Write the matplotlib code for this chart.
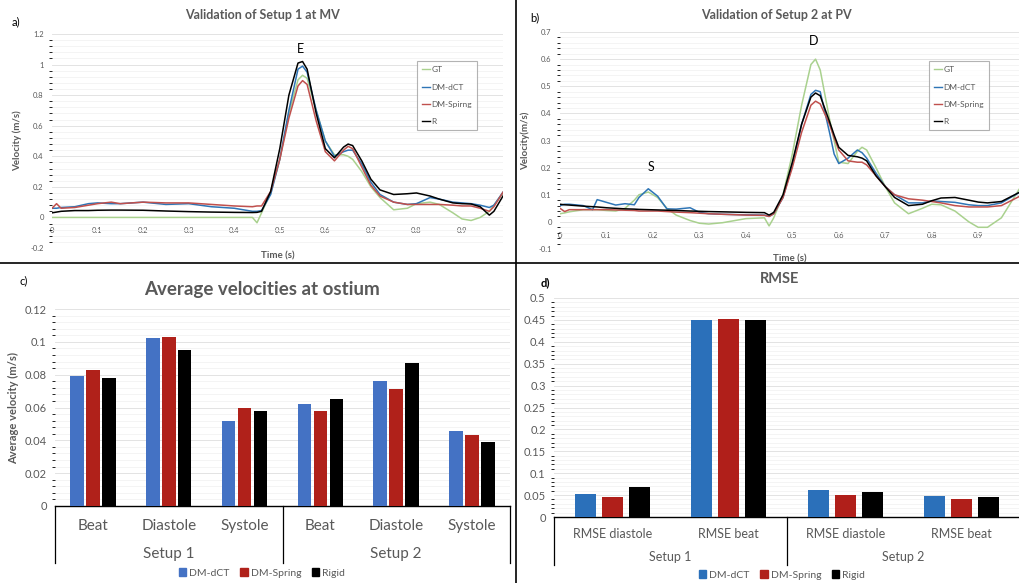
import numpy as np
import matplotlib
matplotlib.use("Agg")
import matplotlib.pyplot as plt
from matplotlib.ticker import MultipleLocator
from matplotlib.patches import Patch
from matplotlib.lines import Line2D

plt.rcParams['font.family'] = ['Lato', 'DejaVu Sans']

# ---- panel a: Setup 1 at MV ----
t_a = [0, 0.01, 0.02, 0.05, 0.08, 0.10, 0.13, 0.15, 0.20, 0.25, 0.30, 0.35, 0.40, 0.44, 0.45,
       0.46, 0.48, 0.50, 0.52, 0.54, 0.55, 0.56, 0.58, 0.60, 0.62, 0.64, 0.65, 0.66, 0.68, 0.70,
       0.72, 0.75, 0.78, 0.80, 0.83, 0.85, 0.88, 0.90, 0.92, 0.94, 0.96, 0.97, 0.99]
gt_a = [0, 0, 0, 0, 0, 0, 0, 0, 0, 0, 0, 0, 0, 0, -0.035,
        0.03, 0.16, 0.38, 0.68, 0.90, 0.93, 0.91, 0.70, 0.50, 0.41, 0.41, 0.40, 0.38, 0.30, 0.20,
        0.13, 0.05, 0.06, 0.09, 0.10, 0.085, 0.03, -0.01, -0.02, 0.0, 0.04, 0.08, 0.16]
dct_a = [0.06, 0.06, 0.065, 0.07, 0.09, 0.095, 0.09, 0.09, 0.10, 0.085, 0.09, 0.07, 0.06, 0.04, 0.04,
         0.045, 0.15, 0.38, 0.70, 0.97, 0.99, 0.95, 0.70, 0.50, 0.40, 0.43, 0.44, 0.44, 0.35, 0.23,
         0.15, 0.10, 0.085, 0.09, 0.13, 0.12, 0.10, 0.095, 0.09, 0.08, 0.065, 0.08, 0.165]
spr_a = [0.06, 0.09, 0.06, 0.065, 0.08, 0.09, 0.10, 0.09, 0.10, 0.095, 0.095, 0.085, 0.075, 0.07, 0.075,
         0.075, 0.17, 0.38, 0.65, 0.86, 0.895, 0.87, 0.63, 0.43, 0.37, 0.44, 0.465, 0.45, 0.33, 0.21,
         0.14, 0.10, 0.085, 0.085, 0.085, 0.085, 0.08, 0.075, 0.075, 0.06, 0.04, 0.07, 0.165]
r_a = [0.03, 0.035, 0.04, 0.045, 0.045, 0.047, 0.048, 0.048, 0.047, 0.042, 0.038, 0.035, 0.033, 0.032, 0.033,
       0.04, 0.17, 0.45, 0.80, 1.01, 1.02, 0.97, 0.68, 0.45, 0.39, 0.46, 0.48, 0.47, 0.37, 0.25,
       0.18, 0.15, 0.155, 0.16, 0.14, 0.12, 0.095, 0.09, 0.088, 0.07, 0.015, 0.04, 0.14]

# ---- panel b: Setup 2 at PV ----
t_b = [0, 0.01, 0.02, 0.05, 0.07, 0.08, 0.10, 0.12, 0.14, 0.16, 0.17, 0.19, 0.21, 0.23, 0.25, 0.28,
       0.30, 0.32, 0.35, 0.40, 0.44, 0.45, 0.46, 0.48, 0.50, 0.52, 0.54, 0.55, 0.56, 0.58, 0.59,
       0.60, 0.62, 0.64, 0.65, 0.66, 0.68, 0.70, 0.72, 0.75, 0.78, 0.80, 0.82, 0.85, 0.88, 0.90,
       0.92, 0.95, 0.99]
gt_b = [0.03, 0.033, 0.037, 0.045, 0.045, 0.045, 0.042, 0.04, 0.05, 0.08, 0.10, 0.11, 0.09, 0.05, 0.025, 0.005,
        -0.005, -0.008, -0.003, 0.012, 0.015, -0.015, 0.015, 0.10, 0.25, 0.43, 0.58, 0.60, 0.56, 0.38, 0.30,
        0.22, 0.215, 0.26, 0.275, 0.265, 0.20, 0.13, 0.07, 0.03, 0.05, 0.065, 0.063, 0.04, 0.0, -0.02,
        -0.02, 0.015, 0.125]
dct_b = [0.06, 0.065, 0.065, 0.06, 0.045, 0.082, 0.072, 0.062, 0.067, 0.063, 0.09, 0.122, 0.095, 0.048, 0.047, 0.052,
         0.035, 0.03, 0.028, 0.026, 0.025, 0.02, 0.03, 0.09, 0.21, 0.36, 0.47, 0.485, 0.48, 0.33, 0.25,
         0.215, 0.235, 0.265, 0.255, 0.235, 0.18, 0.13, 0.10, 0.07, 0.07, 0.077, 0.075, 0.072, 0.063, 0.06,
         0.06, 0.07, 0.11]
spr_b = [0.05, 0.038, 0.045, 0.045, 0.045, 0.045, 0.045, 0.044, 0.043, 0.042, 0.04, 0.04, 0.04, 0.038, 0.036, 0.034,
         0.032, 0.03, 0.028, 0.025, 0.024, 0.02, 0.03, 0.09, 0.20, 0.33, 0.43, 0.445, 0.435, 0.36, 0.31,
         0.265, 0.225, 0.22, 0.22, 0.21, 0.17, 0.13, 0.10, 0.085, 0.08, 0.075, 0.07, 0.06, 0.055, 0.055,
         0.055, 0.06, 0.095]
r_b = [0.065, 0.063, 0.062, 0.058, 0.056, 0.055, 0.052, 0.05, 0.048, 0.047, 0.046, 0.045, 0.044, 0.043, 0.042, 0.04,
       0.039, 0.038, 0.037, 0.035, 0.034, 0.025, 0.035, 0.10, 0.22, 0.36, 0.46, 0.475, 0.465, 0.37, 0.32,
       0.275, 0.245, 0.24, 0.235, 0.225, 0.17, 0.13, 0.09, 0.06, 0.065, 0.078, 0.088, 0.09, 0.08, 0.073,
       0.07, 0.075, 0.11]

# ---- panel c: average velocities ----
cats_c = ['Beat', 'Diastole', 'Systole', 'Beat', 'Diastole', 'Systole']
avg_dct = [0.079, 0.1025, 0.052, 0.062, 0.076, 0.0455]
avg_spr = [0.083, 0.103, 0.060, 0.058, 0.071, 0.043]
avg_rig = [0.078, 0.095, 0.058, 0.065, 0.087, 0.039]

# ---- panel d: RMSE ----
cats_d = ['RMSE diastole', 'RMSE beat', 'RMSE diastole', 'RMSE beat']
rmse_dct = [0.053, 0.450, 0.061, 0.048]
rmse_spr = [0.045, 0.452, 0.051, 0.040]
rmse_rig = [0.068, 0.450, 0.056, 0.046]
groups = ['Setup 1', 'Setup 2']

GRAY = '#595959'
W, H = 1020, 583


def box(l, t, r, b):
    return [l / W, 1 - b / H, (r - l) / W, (b - t) / H]


def ftext(px, py, s, **kw):
    return fig.text(px / W, 1 - py / H, s, **kw)


fig = plt.figure(figsize=(10.2, 5.83), dpi=100)


def line_panel(rect, t, series, ylim, step, minor, title, title_xy, ylabel, xlabel_y, tag, tagpos, legend_box):
    ax = fig.add_axes(rect)
    cols = ['#A9D18E', '#2E75B6', '#C0504D', '#000000']
    for s, c in zip(series, cols):
        ax.plot(t, s, color=c, lw=1.1)
    ax.set_xlim(0, 0.99)
    ax.set_ylim(*ylim)
    ax.yaxis.set_major_locator(MultipleLocator(step))
    ax.yaxis.set_minor_locator(MultipleLocator(minor))
    ax.xaxis.set_major_locator(MultipleLocator(0.1))
    ax.grid(True, which='major', axis='y', color='#E3E3E3', lw=0.7)
    ax.grid(True, which='minor', axis='y', color='#F3F3F3', lw=0.6)
    ax.set_axisbelow(True)
    for sp in ax.spines.values():
        sp.set_visible(False)
    ax.spines['bottom'].set_position(('data', 0))
    ax.tick_params(length=0, labelsize=5.5, labelcolor=GRAY, pad=6)
    ax.tick_params(axis='x', pad=7)
    ax.yaxis.set_major_formatter(plt.FuncFormatter(lambda v, p: ('%g' % round(v, 2))))
    ax.xaxis.set_major_formatter(plt.FuncFormatter(lambda v, p: ('%g' % round(v, 2))))
    ftext(title_xy[0], title_xy[1], title, fontsize=9, fontweight='bold', color=GRAY, ha='center', va='center')
    ax.set_ylabel(ylabel, fontsize=7, fontweight='bold', color=GRAY, labelpad=6)
    l, b_, w, h = rect
    ftext((l + w / 2) * W, xlabel_y, 'Time (s)', fontsize=7, fontweight='bold', color=GRAY,
          ha='center', va='center')
    ftext(tagpos[0], tagpos[1], tag, fontsize=8, ha='left', va='center')
    handles = [Line2D([], [], color=c, lw=1.0) for c in cols]
    leg = fig.legend(handles, legend_box[0], loc='upper left',
                     bbox_to_anchor=(legend_box[1] / W, 1 - legend_box[2] / H),
                     fontsize=6, frameon=True, fancybox=False, handlelength=1.0,
                     handletextpad=0.1, labelspacing=1.25, borderpad=0.6)
    leg.get_frame().set_edgecolor('#A0A0A0')
    leg.get_frame().set_linewidth(0.8)
    for txt in leg.get_texts():
        txt.set_color(GRAY)
    return ax


ax_a = line_panel(box(52, 34, 503, 248), t_a, [gt_a, dct_a, spr_a, r_a], (-0.2, 1.2), 0.2, 0.04,
                  'Validation of Setup 1 at MV', (262, 15), 'Velocity (m/s)', 256, 'a)', (12, 22),
                  (['GT', 'DM-dCT', 'DM-Spirng', 'R'], 413, 57))
ax_a.text(0.545, 1.065, 'E', fontsize=9, ha='center', va='bottom')

ax_b = line_panel(box(560, 32, 1020, 249), t_b, [gt_b, dct_b, spr_b, r_b], (-0.1, 0.7), 0.1, 0.02,
                  'Validation of Setup 2 at PV', (776, 15), 'Velocity(m/s)', 259, 'b)', (530, 18),
                  (['GT', 'DM-dCT', 'DM-Spring', 'R'], 925, 57))
ax_b.text(0.545, 0.645, 'D', fontsize=9, ha='center', va='bottom')
ax_b.text(0.195, 0.18, 'S', fontsize=9, ha='center', va='bottom')


def bar_panel(rect, cats, vals, cols, ylim, step, minor, title, tsize, title_xy, ylabel, tag, tagpos,
              width, gap, catsize, grpsize, cat_y, grp_y, bottom_y, leg_y, leg_x, ticksize):
    ax = fig.add_axes(rect)
    x = np.arange(len(cats))
    n = len(vals)
    for i, (v, c) in enumerate(zip(vals, cols)):
        ax.bar(x + (i - (n - 1) / 2) * (width + gap), v, width, color=c, zorder=3)
    ax.set_xlim(-0.5, len(cats) - 0.5)
    ax.set_ylim(*ylim)
    ax.yaxis.set_major_locator(MultipleLocator(step))
    ax.yaxis.set_minor_locator(MultipleLocator(minor))
    ax.grid(True, which='major', axis='y', color='#E3E3E3', lw=0.7)
    ax.grid(True, which='minor', axis='y', color='#F3F3F3', lw=0.6)
    ax.set_axisbelow(True)
    for k in ['top', 'right', 'left']:
        ax.spines[k].set_visible(False)
    ax.spines['bottom'].set_color('#000000')
    ax.spines['bottom'].set_linewidth(1.0)
    ax.set_xticks([])
    ax.tick_params(axis='y', length=0, labelsize=ticksize, labelcolor=GRAY, pad=6)
    ax.yaxis.set_major_formatter(plt.FuncFormatter(lambda v, p: ('%g' % round(v, 3))))
    ftext(title_xy[0], title_xy[1], title, fontsize=tsize, fontweight='bold', color=GRAY,
          ha='center', va='center')
    if ylabel:
        ax.set_ylabel(ylabel, fontsize=8, fontweight='bold', color=GRAY, labelpad=4)
    ftext(tagpos[0], tagpos[1], tag, fontsize=8, fontweight='bold' if tag == 'd)' else 'normal',
          ha='left', va='center')
    # two-level category axis
    l, b_, w, h = rect
    for xi, c in zip(x, cats):
        fx = l + (xi + 0.5) / len(cats) * w
        fig.text(fx, 1 - cat_y / H, c, fontsize=catsize, color=GRAY, ha='center', va='center')
    half = len(cats) // 2
    for gi, g in enumerate(groups):
        fx = l + (gi * half + half / 2) / len(cats) * w
        fig.text(fx, 1 - grp_y / H, g, fontsize=grpsize, color=GRAY, ha='center', va='center')
    for fx in [l, l + w / 2, l + w]:
        fig.add_artist(Line2D([fx, fx], [b_, 1 - bottom_y / H], color='#000000', lw=0.9))
    handles = [Patch(color=c) for c in cols]
    leg = fig.legend(handles, ['DM-dCT', 'DM-Spring', 'Rigid'], loc='center', ncol=3,
                     bbox_to_anchor=(leg_x / W, 1 - leg_y / H), fontsize=7.5, frameon=False,
                     handlelength=0.7, handleheight=0.7, handletextpad=0.3, columnspacing=1.0)
    for txt in leg.get_texts():
        txt.set_color(GRAY)
    return ax


bar_panel(box(55, 309, 510, 506), cats_c, [avg_dct, avg_spr, avg_rig], ['#4472C4', '#B0211A', '#000000'],
          (0, 0.12), 0.02, 0.004, 'Average velocities at ostium', 13.5, (262, 289), 'Average velocity (m/s)',
          'c)', (20, 281), 0.18, 0.03, 11, 11, 526, 554, 563, 573, 262, 8)

bar_panel(box(554, 298, 1020, 517), cats_d, [rmse_dct, rmse_spr, rmse_rig], ['#2B70BA', '#B01F1A', '#000000'],
          (0, 0.5), 0.05, 0.01, 'RMSE', 10.5, (780, 279), None, 'd)', (541, 283),
          0.18, 0.05, 9, 9, 534, 557, 565, 575, 782, 8)

# panel separators
fig.add_artist(Line2D([0, 1], [1 - 263 / H, 1 - 263 / H], color='#000000', lw=1.2))
fig.add_artist(Line2D([516 / W, 516 / W], [0, 1], color='#000000', lw=1.2))

fig.savefig('out.png', dpi=100)
